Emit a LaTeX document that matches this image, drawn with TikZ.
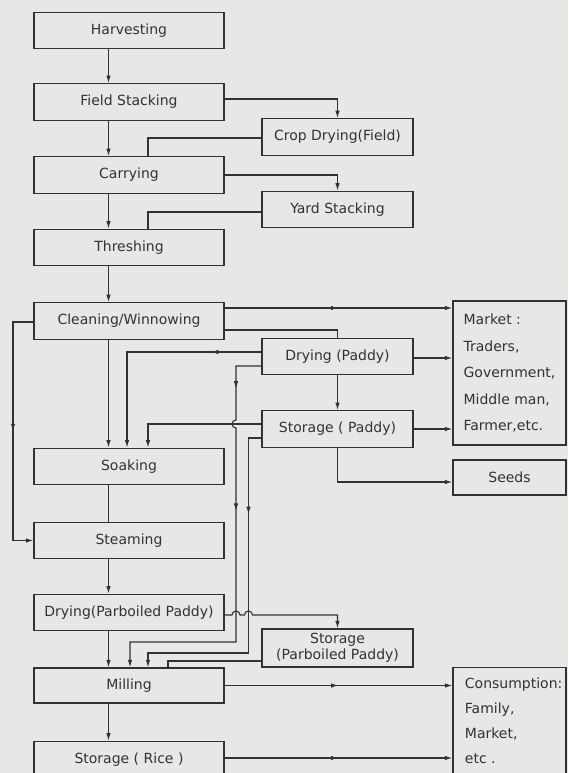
\documentclass[tikz,border=0pt]{standalone}
\usepackage{fontspec}
\setmainfont{DejaVu Sans}
\usetikzlibrary{calc,arrows.meta,decorations.markings}
\definecolor{paper}{RGB}{231,231,229}
\definecolor{ink}{RGB}{50,50,50}
\tikzset{
  >={Latex[length=7.5pt,width=4.5pt]},
  box/.style={draw=ink,line width=1.2pt,fill=paper,text=ink,minimum height=36.5pt,inner sep=1pt,font=\fontsize{14}{16}\selectfont},
  mbox/.style={box,minimum width=190pt},
  sbox/.style={box,minimum width=151pt},
  rbox/.style={box,minimum width=113pt},
  link/.style={ink,line width=1.1pt},
  arr/.style={link,->},
  midarr/.style={decoration={markings,mark=at position #1 with {\arrow{>}}},postaction={decorate}},
  midarrs/.style 2 args={decoration={markings,mark=at position #1 with {\arrow{>}},mark=at position #2 with {\arrow{>}}},postaction={decorate}},
}
\begin{document}
\begin{tikzpicture}[x=1pt,y=-1pt]
  \path[use as bounding box] (0,0) rectangle (568,773);
  \clip (0,0) rectangle (568,773);
  \fill[paper] (0,0) rectangle (568,773);
  \coordinate (xl) at (13,0);
  \coordinate (xm) at (108.5,0);
  \coordinate (xa) at (127,0);
  \coordinate (xb) at (130,0);
  \coordinate (xc) at (148,0);
  \coordinate (xd) at (168,0);
  \coordinate (xe) at (236,0);
  \coordinate (xf) at (248.5,0);
  \coordinate (ya) at (0,642);
  \coordinate (yb) at (0,653);

  \node[mbox] (harv) at (129,30.5) {Harvesting};
  \node[mbox] (fstack) at (129,102) {Field Stacking};
  \node[sbox] (cdry) at (337.5,137) {Crop Drying(Field)};
  \node[mbox] (carry) at (129,175) {Carrying};
  \node[sbox] (yard) at (337.5,209.5) {Yard Stacking};
  \node[mbox] (thresh) at (129,247.5) {Threshing};
  \node[mbox] (clean) at (129,321) {Cleaning/Winnowing};
  \node[sbox] (dpad) at (337.5,356.5) {Drying (Paddy)};
  \node[sbox] (spad) at (337.5,429) {Storage ( Paddy)};
  \node[rbox,minimum height=144pt,align=left,font=\fontsize{14}{26.5}\selectfont] (market) at (509.5,373)
    {Market :\\Traders,\\Government,\\Middle man,\\Farmer,etc.};
  \node[rbox,minimum height=35pt] (seeds) at (509.5,477.5) {Seeds};
  \node[mbox] (soak) at (129,466.5) {Soaking};
  \node[mbox] (steam) at (129,540.5) {Steaming};
  \node[mbox] (dparb) at (129,612.5) {Drying(Parboiled Paddy)};
  \node[sbox,minimum height=38pt,align=center] (sparb) at (337.5,648) {Storage\\(Parboiled Paddy)};
  \node[mbox,minimum height=35pt] (mill) at (129,685.5) {Milling};
  \node[mbox] (srice) at (129,759.5) {Storage ( Rice )};
  \node[rbox,minimum height=125pt,anchor=north] (cons) at (509.5,667) {};
  \node[align=left,anchor=north west,text=ink,font=\fontsize{14}{25}\selectfont] (constext)
    at ([xshift=9pt,yshift=-7pt]cons.north west) {Consumption:\\Family,\\Market,\\etc .};
  \coordinate (hp) at ([yshift=-2.5pt]dparb.east);

  \draw[arr] (harv.south -| xm) -- (fstack.north -| xm);
  \draw[arr] ([yshift=3pt]fstack.east) -| (cdry.north);
  \draw[link] ([yshift=-1pt]cdry.west) -| (carry.north -| xc);
  \draw[arr] (fstack.south -| xm) -- (carry.north -| xm);
  \draw[arr] (carry.east) -| (yard.north);
  \draw[link] ([yshift=-2.5pt]yard.west) -| (thresh.north -| xc);
  \draw[arr] (carry.south -| xm) -- (thresh.north -| xm);
  \draw[arr] (thresh.south -| xm) -- (clean.north -| xm);
  \draw[arr,midarr=0.5] ([yshift=13pt]clean.east) -- ([yshift=13pt]clean.east -| market.west);
  \draw[link] ([yshift=-9pt]clean.east) -| (dpad.north);
  \draw[arr] (clean.south -| xm) -- (soak.north -| xm);
  \draw[arr,midarr=0.5] ([yshift=-1pt]clean.west) -| (xl |- steam.west) -- (steam.west);
  \draw[arr,midarr=0.22] ([yshift=4.5pt]dpad.west) -| (soak.north -| xa);
  \draw[arr] ([yshift=-1.5pt]dpad.east) -- ([yshift=-1.5pt]dpad.east -| market.west);
  \draw[arr] (dpad.south) -- (spad.north);
  \draw[arr,midarrs={0.11}{0.4}] ([yshift=-9.5pt]dpad.west) -| ($(xe |- spad.west)+(0,-9)$)
    arc[start angle=90,end angle=270,radius=4pt] -- (xe |- ya) -| (mill.north -| xb);
  \draw[arr] ([yshift=5pt]spad.west) -| (soak.north -| xc);
  \draw[arr] (spad.east) -- (spad.east -| market.west);
  \draw[arr] (spad.south) |- ([yshift=-4.5pt]seeds.west);
  \draw[arr,midarr=0.26] ([yshift=-9pt]spad.west) -| (xf |- yb) -| (mill.north -| xc);
  \draw[link] (soak.south -| xm) -- (steam.north -| xm);
  \draw[arr] (steam.south -| xm) -- (dparb.north -| xm);
  \draw[arr] (hp) -- ($(hp -| xe)+(-4,0)$) arc[start angle=180,end angle=0,radius=4pt]
    -- ($(hp -| xf)+(-4,0)$) arc[start angle=180,end angle=0,radius=4pt] -| (sparb.north);
  \draw[arr] (dparb.south -| xm) -- (mill.north -| xm);
  \draw[link] ([yshift=-13pt]sparb.west) -| (mill.north -| xd);
  \draw[arr,midarr=0.5] (mill.east) -- (mill.east -| cons.west);
  \draw[arr] (mill.south -| xm) -- (srice.north -| xm);
  \draw[arr,midarr=0.5] ([yshift=1.5pt]srice.east) -- ([yshift=1.5pt]srice.east -| cons.west);
\end{tikzpicture}
\end{document}
